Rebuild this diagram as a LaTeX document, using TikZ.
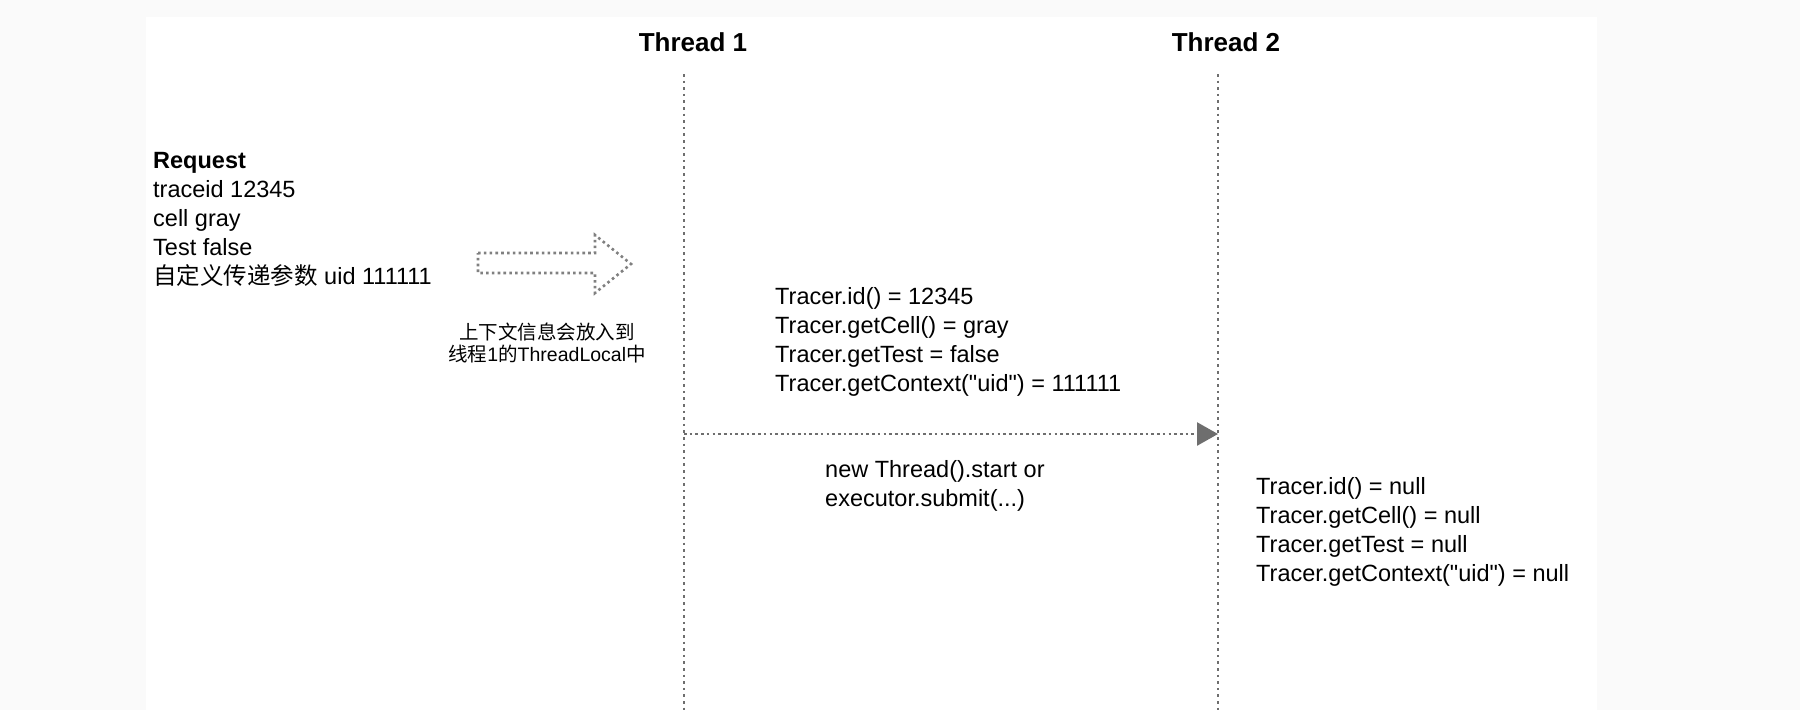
\documentclass[tikz,border=0pt]{standalone}
\usepackage{fontspec}
\setmainfont{Liberation Sans}
\newfontfamily\cjk{Noto Sans CJK SC}
\usetikzlibrary{arrows.meta}
\definecolor{lgray}{HTML}{6E6E6E}
\definecolor{agray}{HTML}{808080}
\definecolor{bggray}{HTML}{FAFAFA}
\newcommand{\qt}{\textquotedbl}
\begin{document}
\begin{tikzpicture}[x=1pt,y=-1pt,
  dotline/.style={draw=lgray, line width=2.6pt, dash pattern=on 2.6pt off 4pt},
  hdot/.style={draw=lgray, line width=2.6pt, dash pattern=on 2.6pt off 3.1pt},
  txt/.style={inner sep=0pt, align=left, anchor=west, font=\fontsize{23.5}{29}\selectfont},
  ttl/.style={inner sep=0pt, font=\fontsize{26}{30}\selectfont\bfseries},
  capt/.style={inner sep=0pt, align=center, font=\fontsize{19.5}{22}\selectfont}
]
\fill[bggray] (0,0) rectangle (1800,710);
\fill[white] (146,17) rectangle (1597,710);
\useasboundingbox (0,0) rectangle (1800,710);

% thread titles
\node[ttl] (th1) at (693,42) {Thread 1};
\node[ttl] (th2) at (1226,42) {Thread 2};

% lifelines
\coordinate (t1top) at (684,74);
\coordinate (t1bot) at (684,710);
\coordinate (t2top) at (1218,74);
\coordinate (t2bot) at (1218,710);
\draw[dotline] (t1top) -- (t1bot);
\draw[dotline] (t2top) -- (t2bot);

% request text
\node[txt] (req) at (153,219.5) {\textbf{Request}\\traceid 12345\\cell gray\\Test false\\{\cjk 自定义传递参数} uid 111111};

% block arrow
\draw[draw=agray, line width=2.6pt, dash pattern=on 2.6pt off 3.2pt]
  (478,253) -- (595,253) -- (595,235) -- (631,264) -- (595,293) -- (595,273) -- (478,273) -- cycle;
\node[capt] (cap) at (547,343) {{\cjk 上下文信息会放入到}\\{\cjk 线程}1{\cjk 的}ThreadLocal{\cjk 中}};

% thread 1 values
\node[txt] (v1) at (775,342) {Tracer.id() = 12345\\Tracer.getCell() = gray\\Tracer.getTest = false\\Tracer.getContext(\qt uid\qt) = 111111};

% spawn arrow
\coordinate (a1) at (684,434);
\coordinate (a2) at (1218,434);
\draw[hdot, -{Triangle[length=21pt,width=23pt]}] (a1) -- (a2);
\node[txt] (spawn) at (825,486) {new Thread().start or\\executor.submit(...)};

% thread 2 values
\node[txt] (v2) at (1256,531.5) {Tracer.id() = null\\Tracer.getCell() = null\\Tracer.getTest = null\\Tracer.getContext(\qt uid\qt) = null};
\end{tikzpicture}
\end{document}
